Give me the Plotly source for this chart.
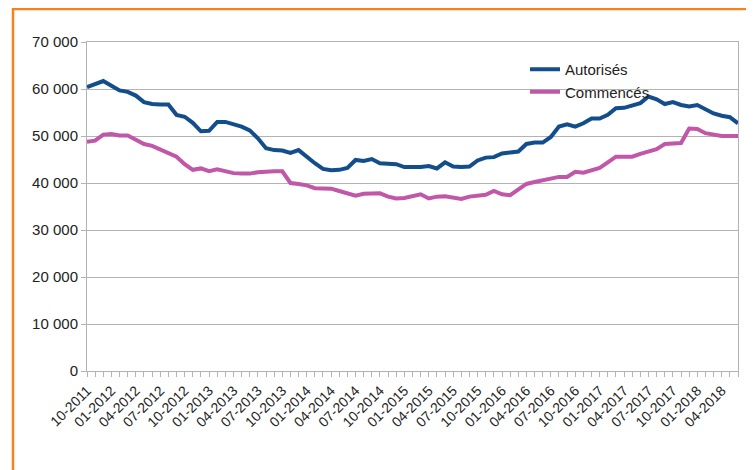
import plotly.graph_objects as go

# Monthly categories, 10-2011 .. 06-2018
start_year, start_month = 2011, 10
months = []
y, m = start_year, start_month
for _ in range(81):
    months.append(f"{m:02d}-{y}")
    m += 1
    if m > 12:
        m = 1
        y += 1

autorises = [
    60400, 61100, 61700, 60700, 59700, 59400, 58600, 57200, 56800, 56700,
    56700, 54500, 54100, 52800, 51000, 51100, 53000, 53000, 52500, 52000,
    51200, 49500, 47400, 47000, 46900, 46400, 47000, 45500, 44200, 43000,
    42700, 42800, 43200, 44900, 44700, 45100, 44200, 44100, 44000, 43400,
    43300, 43400, 43600, 43100, 44400, 43500, 43400, 43500, 44800, 45400,
    45500, 46300, 46500, 46700, 48300, 48600, 48600, 49800, 52000, 52500,
    52000, 52700, 53700, 53700, 54500, 55900, 56000, 56500, 57000, 58400,
    57800, 56800, 57200, 56600, 56300, 56600, 55600, 54800, 54300, 54000,
    52700,
]

commences = [
    48800, 49000, 50300, 50400, 50100, 50100, 49200, 48300, 47900, 47200,
    46400, 45600, 44000, 42800, 43100, 42500, 42900, 42400, 42100, 42000,
    42000, 42300, 42500, 42500, 42500, 40000, 39800, 39500, 38900, 38800,
    38800, 38300, 37800, 37300, 37700, 37800, 37800, 37100, 36700, 36800,
    37300, 37600, 36700, 37100, 37200, 36900, 36600, 37100, 37200, 37500,
    38300, 37600, 37400, 38500, 39800, 40200, 40500, 40900, 41300, 41300,
    42400, 42200, 42600, 43200, 44400, 45600, 45600, 45600, 46200, 46700,
    47200, 48300, 48400, 48500, 51600, 51500, 50600, 50200, 50000, 50000,
    50000,
]

tick_text = [lab if i % 3 == 0 else "" for i, lab in enumerate(months)]
y_ticks = [0, 10000, 20000, 30000, 40000, 50000, 60000, 70000]

fig = go.Figure()
fig.add_trace(go.Scatter(x=months, y=autorises, mode="lines", name="Autorisés",
                         line=dict(color="#124d8c", width=4)))
fig.add_trace(go.Scatter(x=months, y=commences, mode="lines", name="Commencés",
                         line=dict(color="#c157a9", width=4)))

# page has an 8px body margin: figure coords = page coords - 8
OFF = 8
W, H = 746, 462
L, T = 87 - OFF, 42 - OFF
R = W - (738 - OFF)
B = H - (371 - OFF)
pw, ph = W - L - R, H - T - B

def px_x(p):
    return (p - OFF - L) / pw

def px_y(p):
    return (H - B - (p - OFF)) / ph

fig.update_layout(
    width=W, height=H,
    margin=dict(l=L, r=R, t=T, b=B, autoexpand=False),
    paper_bgcolor="white", plot_bgcolor="white",
    font=dict(family="Liberation Sans, Arial, sans-serif", size=15, color="#222222"),
    separators=", ",
    showlegend=True,
    legend=dict(x=px_x(525), y=px_y(53), xanchor="left", yanchor="top",
                bgcolor="rgba(0,0,0,0)", font=dict(size=15, color="#222222"),
                tracegroupgap=0, itemwidth=30),
    xaxis=dict(
        type="category", range=[0, 80],
        tickmode="array", tickvals=months, ticktext=tick_text,
        tickangle=-45, tickfont=dict(size=14),
        ticks="outside", ticklen=5, tickcolor="#b3b3b3",
        showgrid=False, showline=True, linecolor="#b3b3b3", linewidth=1, mirror=True,
        zeroline=False, automargin=False,
    ),
    yaxis=dict(
        range=[0, 70000], tickmode="array", tickvals=y_ticks, tickformat=",d",
        ticks="outside", ticklen=5, tickcolor="#b3b3b3",
        showgrid=True, gridcolor="#b3b3b3", gridwidth=1,
        showline=True, linecolor="#b3b3b3", linewidth=1, mirror=True,
        zeroline=False, automargin=False,
    ),
    shapes=[dict(type="rect", xref="paper", yref="paper",
                 x0=px_x(13), x1=px_x(751), y0=px_y(500), y1=px_y(9),
                 line=dict(color="#f5821f", width=2.5), fillcolor="rgba(0,0,0,0)",
                 layer="above")],
)

fig.write_html("out.html")
